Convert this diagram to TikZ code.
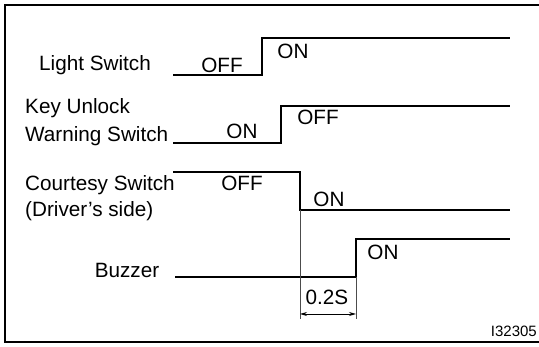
\documentclass[tikz,border=0pt]{standalone}
\usepackage{fontspec}
\setmainfont{Liberation Sans}
\usetikzlibrary{arrows.meta}
\begin{document}
\begin{tikzpicture}[x=1pt,y=-1pt,
  lbl/.style={inner sep=0pt,anchor=base,font=\fontsize{20.7}{23}\selectfont},
  lbll/.style={lbl,anchor=base west},
  wave/.style={line width=1.9pt,line join=miter},
  frame/.style={line width=1.8pt},
  guide/.style={line width=0.6pt,draw=black!70},
  dim/.style={line width=0.8pt,{Stealth[length=7pt,width=4pt]}-{Stealth[length=7pt,width=4pt]}}]
\useasboundingbox (0,0) rectangle (539,347);
\draw[frame] (545,5) -- (5,5) -- (5,342) -- (545,342);
% waveforms
\draw[wave] (173,75) -- (262,75) -- (262,38) -- (510,38);
\draw[wave] (173,143) -- (281,143) -- (281,106) -- (510,106);
\draw[wave] (173,172) -- (300,172) -- (300,210) -- (510,210);
\draw[wave] (175,277) -- (356,277) -- (356,239) -- (510,239);
% guides
\coordinate (g1) at (300,210);
\coordinate (g2) at (356,277);
\coordinate (g1b) at (300,319);
\coordinate (g2b) at (356,319);
\draw[guide] (g1) -- (g1b);
\draw[guide] (g2) -- (g2b);
\coordinate (a1) at (300,314);
\coordinate (a2) at (356,314);
\draw[dim] (a1) -- (a2);
% labels
\node[lbl] (ls) at (95,71) {Light Switch};
\node[lbl] (lsoff) at (222,73) {OFF};
\node[lbl] (lson) at (293,59) {ON};
\node[lbll] (ku1) at (25,114) {Key Unlock};
\node[lbll] (ku2) at (25,142) {Warning Switch};
\node[lbl] (kuon) at (242,139) {ON};
\node[lbl] (kuoff) at (318,125) {OFF};
\node[lbll] (cs1) at (25,191) {Courtesy Switch};
\node[lbll] (cs2) at (25,217) {(Driver’s side)};
\node[lbl] (csoff) at (242,191) {OFF};
\node[lbl] (cson) at (329,207) {ON};
\node[lbl] (bz) at (127,278) {Buzzer};
\node[lbl] (bzon) at (383,260) {ON};
\node[lbl] (t) at (327,305) {0.2S};
\node[inner sep=0pt,anchor=base east,font=\fontsize{15}{17}\selectfont] (id) at (537,337) {I32305};
\end{tikzpicture}
\end{document}
